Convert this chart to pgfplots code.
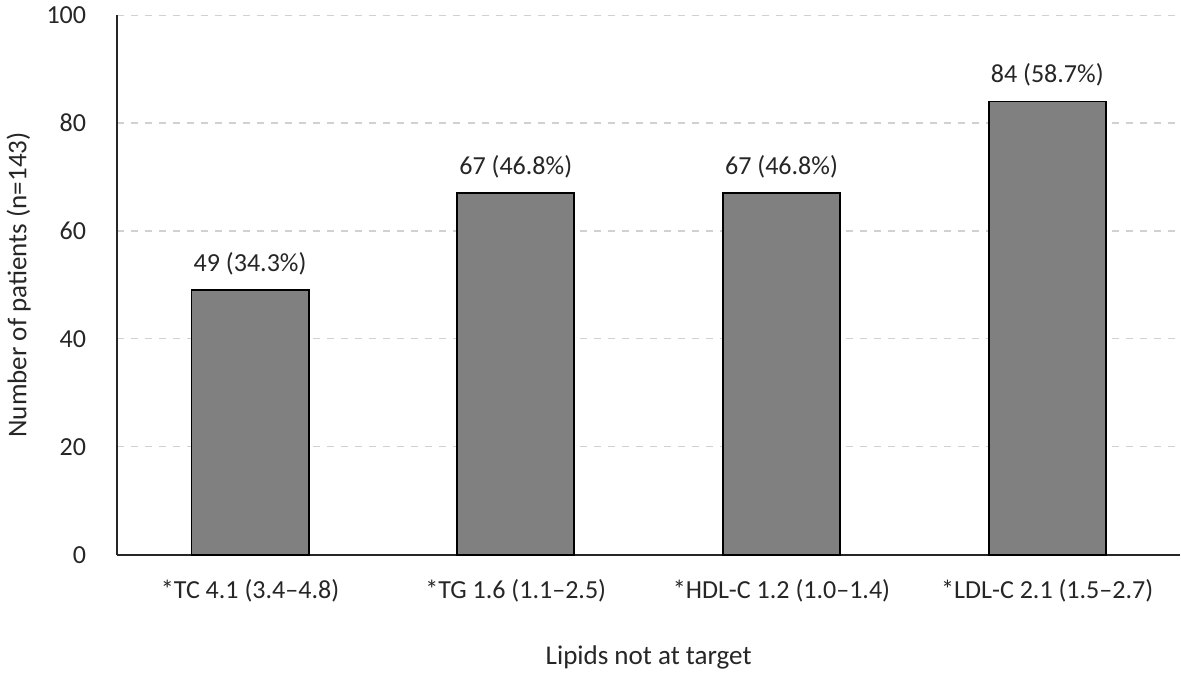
\documentclass[border=0pt]{standalone}
\usepackage{pgfplots}
\pgfplotsset{compat=1.18}
\usepackage{fontspec}
\setmainfont{Carlito}
\begin{document}
\begin{tikzpicture}
\begin{axis}[
  scale only axis,
  width=531pt, height=269.5pt,
  xmin=-0.5, xmax=3.5, ymin=0, ymax=100,
  axis lines*=left,
  axis line style={draw=black!85, line width=0.9pt, -},
  xtick={0,1,2,3},
  xticklabels={{*TC 4.1 (3.4–4.8)},{*TG 1.6 (1.1–2.5)},{*HDL-C 1.2 (1.0–1.4)},{*LDL-C 2.1 (1.5–2.7)}},
  ytick={0,20,...,100},
  major tick length=0pt,
  ymajorgrids,
  grid style={draw=black!18, dash pattern=on 3.5pt off 3.5pt, line width=0.6pt},
  tick label style={font=\fontsize{13}{15}\selectfont, text=black!85},
  /pgf/number format/assume math mode=true,
  yticklabel style={xshift=-12pt},
  xticklabel style={yshift=-9pt},
  xlabel={Lipids not at target},
  ylabel={Number of patients (n=143)},
  label style={font=\fontsize{13.5}{16}\selectfont, text=black!85},
  xlabel style={yshift=-15pt},
  ylabel style={yshift=1pt},
  nodes near coords,
  point meta=explicit symbolic,
  nodes near coords style={font=\fontsize{13}{15}\selectfont, text=black!85, anchor=south, yshift=4pt},
  clip=false,
]
\addplot[ybar, bar width=58.5pt, fill=black!50, draw=black, line width=0.9pt]
  coordinates {(0,49)[49 (34.3\%)] (1,67)[67 (46.8\%)] (2,67)[67 (46.8\%)] (3,84)[84 (58.7\%)]};
\end{axis}
\end{tikzpicture}
\end{document}
